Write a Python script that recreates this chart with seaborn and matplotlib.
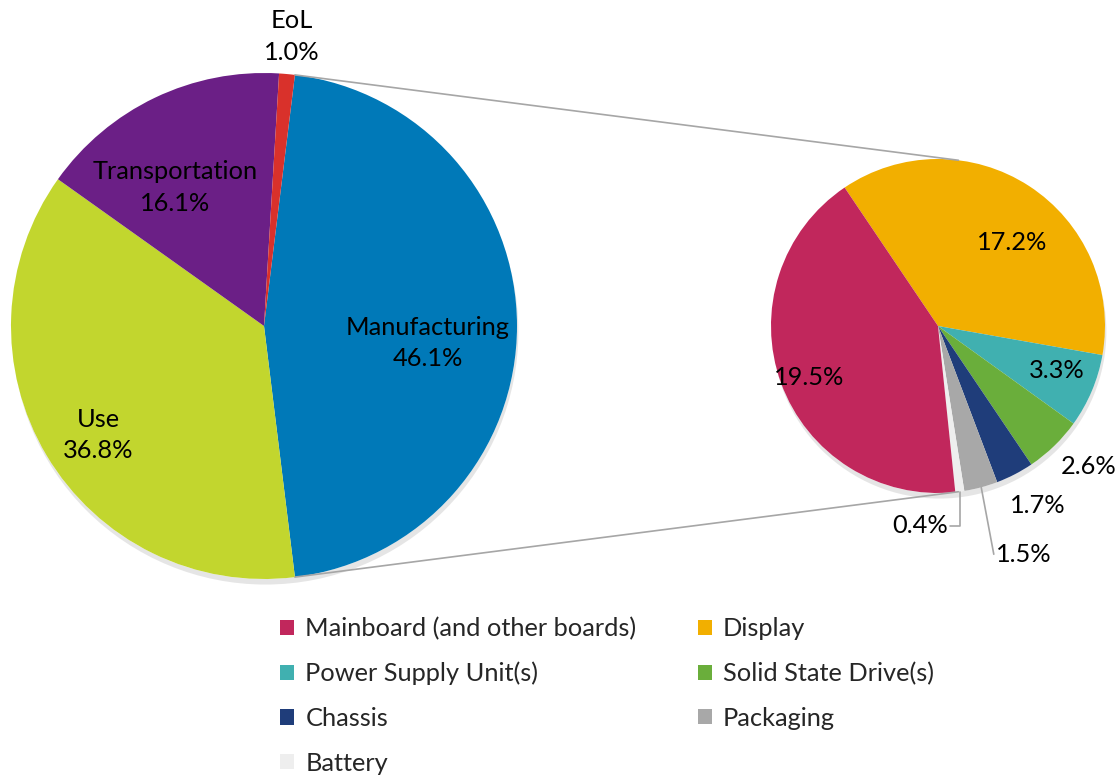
import numpy as np
import seaborn as sns
import matplotlib.pyplot as plt
from matplotlib.patches import Patch, Circle
import matplotlib.patheffects as pe

# data
main_labels = ["Manufacturing", "Use", "Transportation", "EoL"]
main_values = [46.1, 36.8, 16.1, 1.0]
main_colors = ["#0079b8", "#c2d62e", "#6b1f86", "#d9312b"]

sub_labels = ["Display", "Power Supply Unit(s)", "Solid State Drive(s)", "Chassis",
              "Packaging", "Battery", "Mainboard (and other boards)"]
sub_values = [17.2, 3.3, 2.6, 1.7, 1.5, 0.4, 19.5]
sub_colors = ["#f2af00", "#40b0b0", "#6aae3b", "#1f3d7a", "#a8a8a8", "#eeeeee", "#c1275c"]

sns.set_theme(style="white")
plt.rcParams['font.family'] = ['Lato', 'DejaVu Sans']
FS = 18.3

W, H = 1118, 776
fig = plt.figure(figsize=(W / 100, H / 100), dpi=100)
ax = fig.add_axes([0, 0, 1, 1])

# pie geometry (pixel-like data units, y up)
c1, r1 = (264, H - 326), 253
c2, r2 = (938, H - 326), 167
split = main_values[0] / sum(main_values) * 360 / 2  # half-angle of the split slice

# soft shadows behind the pies
for c, r in [(c1, r1), (c2, r2)]:
    sh = Circle(c, r, facecolor="white", edgecolor="none", zorder=0)
    sh.set_path_effects([pe.SimplePatchShadow(offset=(1, -4), shadow_rgbFace="#999999", alpha=0.25),
                         pe.Normal()])
    ax.add_patch(sh)

w1, _ = ax.pie(main_values, colors=main_colors, center=c1, radius=r1,
               startangle=split, counterclock=False,
               wedgeprops=dict(linewidth=0))
w2, _ = ax.pie(sub_values, colors=sub_colors, center=c2, radius=r2,
               startangle=124, counterclock=False,
               wedgeprops=dict(linewidth=0))

def polar(c, r, ang):
    a = np.deg2rad(ang)
    return c[0] + r * np.cos(a), c[1] + r * np.sin(a)

# connector lines
for a in (split, -split):
    x0, y0 = polar(c1, r1, a)
    x1, y1 = polar(c2, r2, a)
    ax.plot([x0, x1], [y0, y1], color="#a6a6a6", lw=1.2, zorder=1)

# main pie labels: (radius fraction, angle)
main_pos = [(0.65, -6), (0.785, -146.7), (0.65, 122.8), (1.15, 84.5)]
for lab, v, (rf, ang) in zip(main_labels, main_values, main_pos):
    x, y = polar(c1, r1 * rf, ang)
    ax.text(x, y, f"{lab}\n{v:.1f}%", ha="center", va="center", fontsize=FS,
            linespacing=1.45, color="black")

# sub pie labels
sub_pos = [(0.67, 48.6), (0.76, -20.7), (1.23, -43), (1.23, -61),
           (1.46, -69.4), (1.2, -95), (0.83, 201.7)]
for w, v, (rf, ang) in zip(w2, sub_values, sub_pos):
    x, y = polar(c2, r2 * rf, ang)
    ax.text(x, y, f"{v:.1f}%", ha="center", va="center", fontsize=FS, color="black")

# leader lines for the two smallest labels
bx, by = polar(c2, r2, -82.5)
lx, ly = polar(c2, r2 * 1.2, -95)
ax.plot([bx, bx, bx - 10], [by, ly, ly], color="#a6a6a6", lw=1.2)
px, py = polar(c2, r2, -75)
qx, qy = polar(c2, r2 * 1.46, -69.4)
ax.plot([px, qx - 30], [py, qy], color="#a6a6a6", lw=1.2)

ax.set_xlim(0, W)
ax.set_ylim(0, H)
ax.set_aspect("equal")
ax.axis("off")

# legend, row-major order like the original
order = [6, 1, 3, 5, 0, 2, 4]
handles = [Patch(facecolor=sub_colors[i], edgecolor="none", label=sub_labels[i]) for i in order]
fig.legend(handles=handles, loc="upper left", bbox_to_anchor=(280 / W, 1 - 617 / H),
           ncol=2, frameon=False, fontsize=FS, borderpad=0, borderaxespad=0,
           handlelength=0.55, handleheight=0.55, handletextpad=0.45,
           columnspacing=2.4, labelspacing=0.85)

fig.savefig("out.png", dpi=100)
